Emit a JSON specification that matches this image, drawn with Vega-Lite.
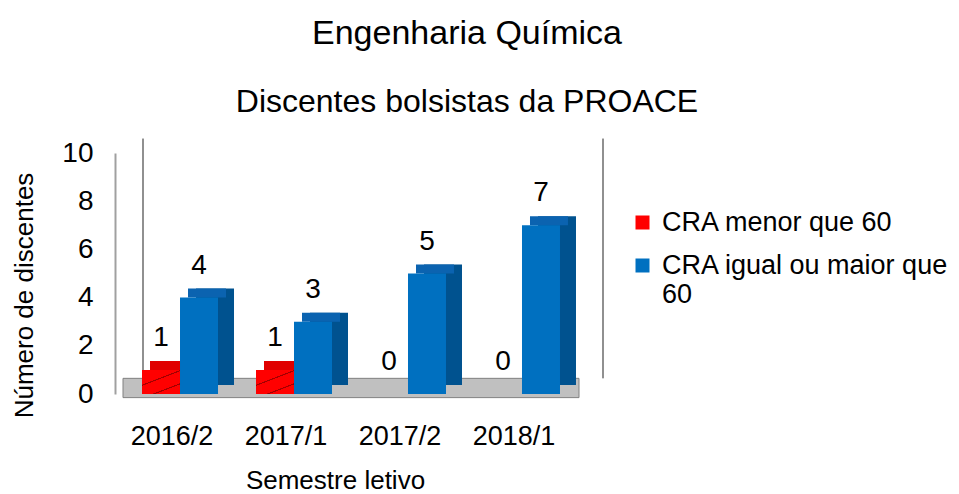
{
  "$schema": "https://vega.github.io/schema/vega-lite/v6.json",
  "width": 456,
  "height": 241,
  "autosize": {"type": "none"},
  "padding": {"left": 123, "top": 153, "right": 380, "bottom": 100},
  "background": "white",
  "title": {
    "text": "Engenharia Química",
    "subtitle": "Discentes bolsistas da PROACE",
    "fontSize": 34,
    "fontWeight": "normal",
    "subtitleFontSize": 32,
    "color": "black",
    "subtitleColor": "black",
    "anchor": "middle",
    "frame": "group",
    "dx": 116,
    "offset": 20,
    "subtitlePadding": 36
  },
  "data": {
    "values": [
      {"semestre": "2016/2", "grupo": "CRA menor que 60", "valor": 1},
      {"semestre": "2016/2", "grupo": "CRA igual ou maior que 60", "valor": 4},
      {"semestre": "2017/1", "grupo": "CRA menor que 60", "valor": 1},
      {"semestre": "2017/1", "grupo": "CRA igual ou maior que 60", "valor": 3},
      {"semestre": "2017/2", "grupo": "CRA menor que 60", "valor": 0},
      {"semestre": "2017/2", "grupo": "CRA igual ou maior que 60", "valor": 5},
      {"semestre": "2018/1", "grupo": "CRA menor que 60", "valor": 0},
      {"semestre": "2018/1", "grupo": "CRA igual ou maior que 60", "valor": 7}
    ]
  },
  "layer": [
    {
      "data": {"values": [{}]},
      "mark": {"type": "rect", "fill": "#c0c0c0", "stroke": "#808080", "strokeWidth": 1, "x2Offset": 12, "clip": false},
      "encoding": {
        "y": {"datum": -0.15, "type": "quantitative", "scale": {"domain": [0, 10], "nice": false}},
        "y2": {"datum": 0.65}
      }
    },
    {
      "data": {"values": [{}]},
      "mark": {"type": "rule", "color": "#909090", "strokeWidth": 2, "xOffset": 81, "x2Offset": 81},
      "encoding": {
        "x": {"datum": "2018/1", "type": "nominal"},
        "y": {"datum": 0.65, "type": "quantitative"},
        "y2": {"datum": 10.6}
      }
    },
    {
      "data": {"values": [{}]},
      "mark": {"type": "rule", "color": "#909090", "strokeWidth": 2, "xOffset": -37, "x2Offset": -37},
      "encoding": {
        "x": {"datum": "2016/2", "type": "nominal"},
        "y": {"datum": 0.3, "type": "quantitative"},
        "y2": {"datum": 10.6}
      }
    },
    {
      "transform": [{"filter": "datum.valor > 0 && datum.grupo == 'CRA menor que 60'"}],
      "mark": {"type": "bar", "width": 38, "color": "#b00000", "xOffset": -3, "x2Offset": -3, "yOffset": -9, "y2Offset": -9},
      "encoding": {
        "x": {"field": "semestre", "type": "nominal"},
        "y": {"field": "valor", "type": "quantitative"}
      }
    },
    {
      "transform": [{"filter": "datum.valor > 0 && datum.grupo == 'CRA igual ou maior que 60'"}],
      "mark": {"type": "bar", "width": 38, "color": "#00528f", "xOffset": 35, "x2Offset": 35, "yOffset": -9, "y2Offset": -9},
      "encoding": {
        "x": {"field": "semestre", "type": "nominal"},
        "y": {"field": "valor", "type": "quantitative"}
      }
    },
    {
      "transform": [{"filter": "datum.valor > 0 && datum.grupo == 'CRA menor que 60'"}],
      "mark": {"type": "tick", "size": 38, "thickness": 9, "color": "#e00000", "opacity": 1, "xOffset": -11, "yOffset": -4.5},
      "encoding": {
        "x": {"field": "semestre", "type": "nominal"},
        "y": {"field": "valor", "type": "quantitative"}
      }
    },
    {
      "transform": [{"filter": "datum.valor > 0 && datum.grupo == 'CRA igual ou maior que 60'"}],
      "mark": {"type": "tick", "size": 38, "thickness": 9, "color": "#0b63b0", "opacity": 1, "xOffset": 27, "yOffset": -4.5},
      "encoding": {
        "x": {"field": "semestre", "type": "nominal"},
        "y": {"field": "valor", "type": "quantitative"}
      }
    },
    {
      "mark": {"type": "bar"},
      "encoding": {
        "x": {
          "field": "semestre", "type": "nominal", "sort": ["2016/2", "2017/1", "2017/2", "2018/1"],
          "scale": {"paddingInner": 0.3333, "paddingOuter": 0.1667},
          "axis": {
            "title": "Semestre letivo", "titleFontSize": 26, "titleFontWeight": "normal", "titleColor": "black",
            "labelFontSize": 27, "labelColor": "black", "labelAngle": 0, "labelAlign": "center", "labelOffset": -8, "bandPosition": 0.5,
            "ticks": false, "domain": false, "labelPadding": 42, "titlePadding": 18, "titleX": 212
          }
        },
        "xOffset": {"field": "grupo", "type": "nominal", "sort": ["CRA menor que 60", "CRA igual ou maior que 60"], "scale": {"paddingInner": 0, "paddingOuter": 0}},
        "y": {
          "field": "valor", "type": "quantitative",
          "scale": {"domain": [0, 10], "nice": false},
          "axis": {
            "title": "Número de discentes", "titleFontSize": 26, "titleFontWeight": "normal", "titleColor": "black",
            "labelFontSize": 28, "labelColor": "black", "values": [0, 2, 4, 6, 8, 10],
            "ticks": false, "domainColor": "#a0a0a0", "domainWidth": 2, "offset": 8,
            "labelPadding": 22, "titlePadding": 24, "titleY": 142, "grid": false
          }
        },
        "color": {
          "field": "grupo", "type": "nominal", "sort": ["CRA menor que 60", "CRA igual ou maior que 60"],
          "scale": {"range": ["#ff0000", "#0070c0"]},
          "legend": {
            "title": null, "orient": "none", "legendX": 506, "legendY": 56,
            "symbolType": "square", "symbolSize": 196, "symbolStrokeWidth": 0,
            "labelFontSize": 27, "labelColor": "black", "labelOffset": 6, "rowPadding": 15,
            "labelLimit": 400,
            "labelExpr": "datum.label == 'CRA igual ou maior que 60' ? ['CRA igual ou maior que', '60'] : datum.label"
          }
        }
      }
    },
    {
      "transform": [{"filter": "datum.valor > 0 && datum.grupo == 'CRA menor que 60'"}],
      "mark": {
        "type": "bar",
        "fill": {
          "gradient": "linear", "x1": 0, "y1": 0, "x2": 0.714, "y2": 1.174,
          "stops": [
            {"offset": 0, "color": "#ff0000"},
            {"offset": 0.38, "color": "#ff0000"},
            {"offset": 0.385, "color": "#a00000"},
            {"offset": 0.41, "color": "#a00000"},
            {"offset": 0.415, "color": "#ff0000"},
            {"offset": 0.72, "color": "#ff0000"},
            {"offset": 0.725, "color": "#a00000"},
            {"offset": 0.75, "color": "#a00000"},
            {"offset": 0.755, "color": "#ff0000"},
            {"offset": 1, "color": "#ff0000"}
          ]
        }
      },
      "encoding": {
        "x": {"field": "semestre", "type": "nominal"},
        "xOffset": {"field": "grupo", "type": "nominal", "sort": ["CRA menor que 60", "CRA igual ou maior que 60"]},
        "y": {"field": "valor", "type": "quantitative"}
      }
    },
    {
      "mark": {"type": "text", "fontSize": 28, "color": "black", "baseline": "alphabetic", "dy": -24},
      "encoding": {
        "x": {"field": "semestre", "type": "nominal"},
        "xOffset": {"field": "grupo", "type": "nominal", "sort": ["CRA menor que 60", "CRA igual ou maior que 60"]},
        "y": {"field": "valor", "type": "quantitative"},
        "text": {"field": "valor", "type": "quantitative"}
      }
    }
  ],
  "config": {
    "font": "Liberation Sans",
    "view": {"stroke": null},
    "axis": {"grid": false}
  }
}
